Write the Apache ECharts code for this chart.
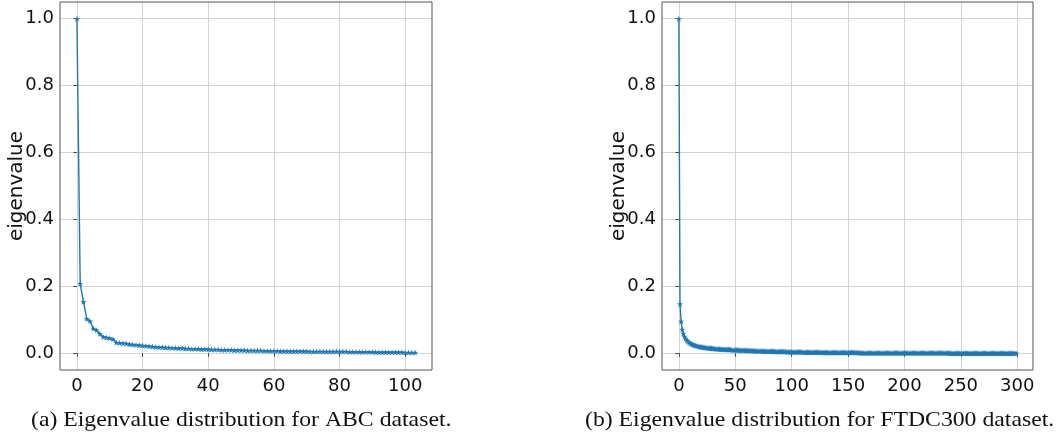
<!DOCTYPE html>
<html>
<head>
<meta charset="utf-8">
<script src="https://cdn.jsdelivr.net/npm/echarts@6/dist/echarts.min.js"></script>
<style>html,body{margin:0;padding:0;background:#fff}#c{width:1057px;height:440px}</style>
</head>
<body>
<div id="c"></div>
<script>
// ---- data ----
const abcValues = [
  1.0, 0.208, 0.154, 0.103, 0.096, 0.074, 0.069, 0.058, 0.049, 0.047,
  0.045, 0.042, 0.032, 0.031, 0.030, 0.029, 0.027, 0.026, 0.025, 0.024,
  0.023, 0.022, 0.021, 0.020, 0.019, 0.018, 0.018, 0.017, 0.017, 0.016,
  0.016, 0.015, 0.015, 0.014, 0.014, 0.013, 0.013, 0.013, 0.012, 0.012,
  0.012, 0.011, 0.011, 0.011, 0.010, 0.010, 0.010, 0.010, 0.009, 0.009,
  0.009, 0.009, 0.008, 0.008, 0.008, 0.008, 0.008, 0.007, 0.007, 0.007,
  0.007, 0.007, 0.006, 0.006, 0.006, 0.006, 0.006, 0.006, 0.006, 0.006,
  0.006, 0.005, 0.005, 0.005, 0.005, 0.005, 0.005, 0.005, 0.005, 0.005,
  0.005, 0.005, 0.005, 0.004, 0.004, 0.004, 0.004, 0.004, 0.004, 0.004,
  0.004, 0.003, 0.003, 0.003, 0.003, 0.003, 0.003, 0.003, 0.003, 0.003,
  0.002, 0.002, 0.002, 0.002
];
const ftdcValues = [
  1.0, 0.147, 0.095, 0.071, 0.059, 0.050, 0.044, 0.039, 0.035, 0.032,
  0.030, 0.028, 0.026, 0.025, 0.024, 0.023, 0.022, 0.021, 0.020, 0.019,
  0.019, 0.018, 0.018, 0.017, 0.017, 0.016, 0.016, 0.015, 0.015, 0.015,
  0.014, 0.014, 0.014, 0.013, 0.013, 0.013, 0.013, 0.012, 0.012, 0.012,
  0.012, 0.012, 0.011, 0.011, 0.011, 0.011, 0.011, 0.010, 0.010, 0.010,
  0.010, 0.010, 0.010, 0.009, 0.009, 0.009, 0.009, 0.009, 0.009, 0.008,
  0.008, 0.008, 0.008, 0.008, 0.008, 0.008, 0.007, 0.007, 0.007, 0.007,
  0.007, 0.007, 0.007, 0.007, 0.007, 0.006, 0.006, 0.006, 0.006, 0.006,
  0.006, 0.006, 0.006, 0.006, 0.006, 0.005, 0.005, 0.005, 0.005, 0.005,
  0.005, 0.005, 0.005, 0.005, 0.005, 0.005, 0.004, 0.004, 0.004, 0.004,
  0.004, 0.004, 0.004, 0.004, 0.004, 0.004, 0.004, 0.004, 0.004, 0.004,
  0.003, 0.003, 0.003, 0.003, 0.003, 0.003, 0.003, 0.003, 0.003, 0.003,
  0.003, 0.003, 0.003, 0.003, 0.003, 0.003, 0.003, 0.003, 0.002, 0.002,
  0.002, 0.002, 0.002, 0.002, 0.002, 0.002, 0.002, 0.002, 0.002, 0.002,
  0.002, 0.002, 0.002, 0.002, 0.002, 0.002, 0.002, 0.002, 0.002, 0.002,
  0.002, 0.002, 0.002, 0.002, 0.002, 0.002, 0.002, 0.002, 0.002, 0.002,
  0.001, 0.001, 0.001, 0.001, 0.001, 0.001, 0.001, 0.001, 0.001, 0.001,
  0.001, 0.001, 0.001, 0.001, 0.001, 0.001, 0.001, 0.001, 0.001, 0.001,
  0.001, 0.001, 0.001, 0.001, 0.001, 0.001, 0.001, 0.001, 0.001, 0.001,
  0.001, 0.001, 0.001, 0.001, 0.001, 0.001, 0.001, 0.001, 0.001, 0.001,
  0.001, 0.001, 0.001, 0.001, 0.001, 0.001, 0.001, 0.001, 0.001, 0.001,
  0.001, 0.001, 0.001, 0.001, 0.001, 0.001, 0.001, 0.001, 0.001, 0.001,
  0.001, 0.001, 0.001, 0.001, 0.001, 0.001, 0.001, 0.001, 0.001, 0.001,
  0.001, 0.001, 0.001, 0.001, 0.001, 0.001, 0.001, 0.001, 0.001, 0.001,
  0.000, 0.000, 0.000, 0.000, 0.000, 0.000, 0.000, 0.000, 0.000, 0.000,
  0.000, 0.000, 0.000, 0.000, 0.000, 0.000, 0.000, 0.000, 0.000, 0.000,
  0.000, 0.000, 0.000, 0.000, 0.000, 0.000, 0.000, 0.000, 0.000, 0.000,
  0.000, 0.000, 0.000, 0.000, 0.000, 0.000, 0.000, 0.000, 0.000, 0.000,
  0.000, 0.000, 0.000, 0.000, 0.000, 0.000, 0.000, 0.000, 0.000, 0.000,
  0.000, 0.000, 0.000, 0.000, 0.000, 0.000, 0.000, 0.000, 0.000, 0.000
];
const abcXTicks = [0, 20, 40, 60, 80, 100];
const ftdcXTicks = [0, 50, 100, 150, 200, 250, 300];
const yTicks = [0, 0.2, 0.4, 0.6, 0.8, 1.0];
const yAxisTitle = 'eigenvalue';
const captionA = '(a) Eigenvalue distribution for ABC dataset.';
const captionB = '(b) Eigenvalue distribution for FTDC300 dataset.';

// ---- build ----
const toPairs = arr => arr.map((v, i) => [i, v]);
const pad = (n) => (n - 1) * 0.05;
const STAR = 'path://M0,-10 L2.35,-3.24 L9.51,-3.09 L3.8,1.24 L5.88,8.09 L0,4 L-5.88,8.09 L-3.8,1.24 L-9.51,-3.09 L-2.35,-3.24 Z';
const LINE_COLOR = '#1f77b4';
const TICK_FONT = 'DejaVu Sans';

function xAxis(gridIndex, n, ticks) {
  return {
    type: 'value', gridIndex,
    min: -pad(n), max: (n - 1) + pad(n),
    axisLine: { show: false },
    axisTick: { show: true, customValues: ticks, length: 3.5, lineStyle: { color: '#444', width: 1 } },
    axisLabel: { customValues: ticks, fontFamily: TICK_FONT, fontSize: 18, color: '#111', margin: 7 },
    splitLine: { show: true, lineStyle: { color: '#d3d3d3', width: 1 } }
  };
}
function yAxis(gridIndex) {
  return {
    type: 'value', gridIndex,
    min: -0.05, max: 1.05,
    name: yAxisTitle, nameLocation: 'middle', nameGap: 33, nameRotate: 90,
    nameMoveOverlap: false,
    nameTextStyle: { fontFamily: TICK_FONT, fontSize: 20, color: '#111' },
    axisLine: { show: false },
    axisTick: { show: true, customValues: yTicks, length: 3.5, lineStyle: { color: '#444', width: 1 } },
    axisLabel: { customValues: yTicks, fontFamily: TICK_FONT, fontSize: 18, color: '#111', margin: 6,
      formatter: v => v.toFixed(1) },
    splitLine: { show: true, lineStyle: { color: '#d3d3d3', width: 1 } }
  };
}
function series(idx, data) {
  return {
    type: 'line', xAxisIndex: idx, yAxisIndex: idx,
    data: toPairs(data),
    symbol: STAR, symbolSize: 6, showSymbol: true,
    lineStyle: { color: LINE_COLOR, width: 1.4 },
    itemStyle: { color: LINE_COLOR },
    animation: false, z: 3
  };
}

const chart = echarts.init(document.getElementById('c'), null, { renderer: 'canvas' });
chart.setOption({
  backgroundColor: '#fff',
  animation: false,
  grid: [
    { left: 60, top: 2, width: 372, height: 368, show: true, borderColor: '#555', borderWidth: 1, backgroundColor: 'transparent', z: 4 },
    { left: 662, top: 2, width: 371, height: 368, show: true, borderColor: '#555', borderWidth: 1, backgroundColor: 'transparent', z: 4 }
  ],
  xAxis: [xAxis(0, abcValues.length, abcXTicks), xAxis(1, ftdcValues.length, ftdcXTicks)],
  yAxis: [yAxis(0), yAxis(1)],
  series: [series(0, abcValues), series(1, ftdcValues)],
  graphic: [
    { type: 'text', x: 31, y: 410, scaleX: 1.13, style: { text: captionA, font: '21px "Liberation Serif"', fill: '#111' } },
    { type: 'text', x: 585, y: 410, scaleX: 1.13, style: { text: captionB, font: '21px "Liberation Serif"', fill: '#111' } }
  ]
});
</script>
</body>
</html>
